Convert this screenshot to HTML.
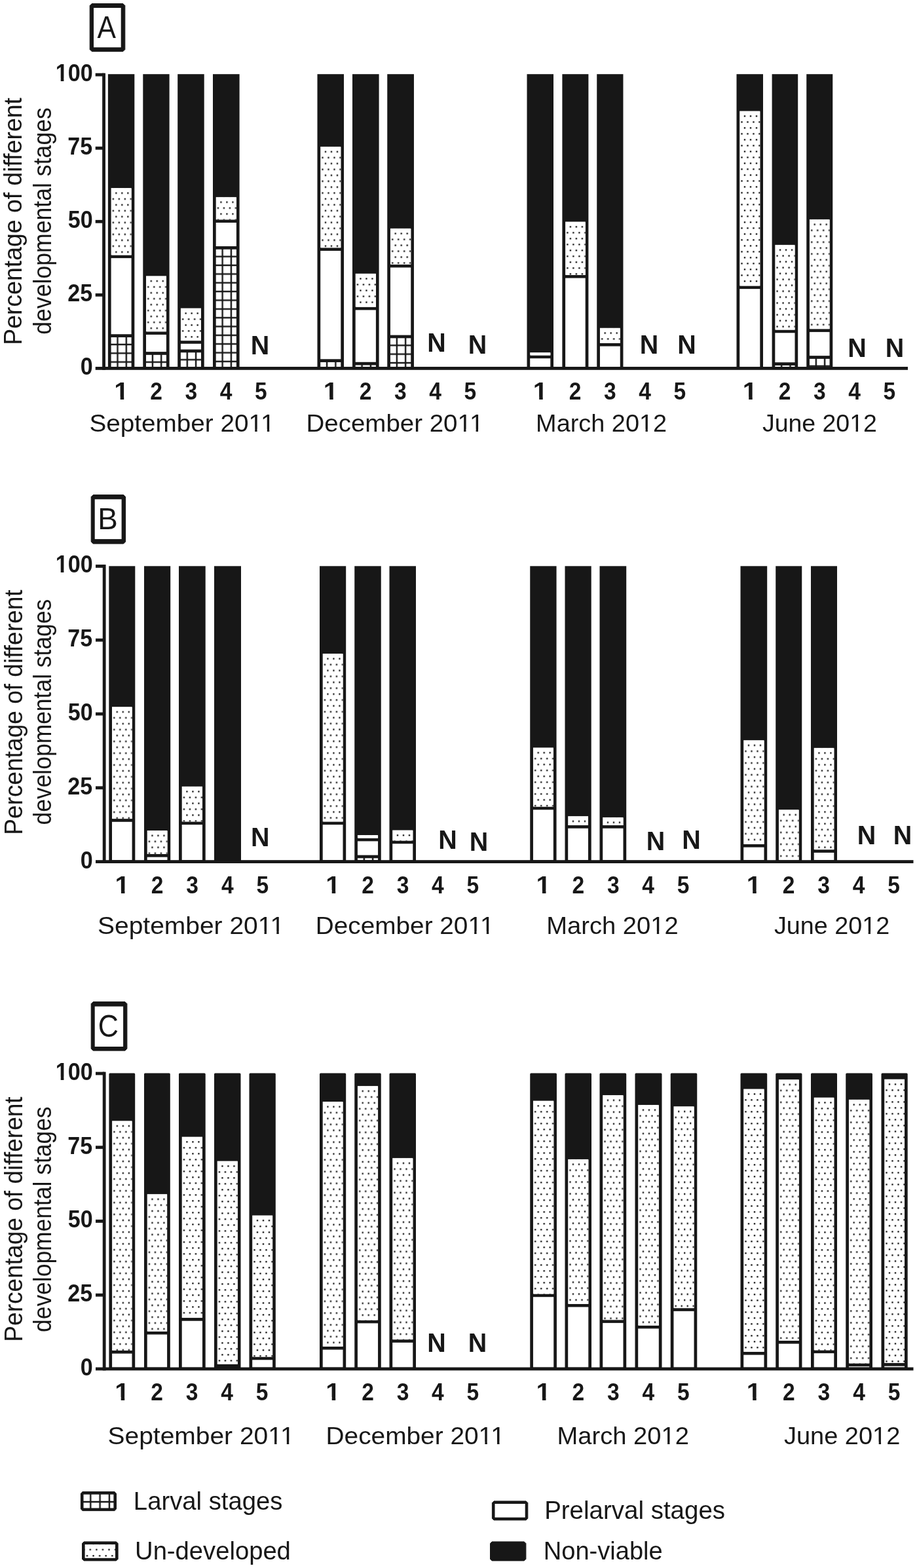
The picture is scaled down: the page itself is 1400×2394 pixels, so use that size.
<!DOCTYPE html>
<html lang="en"><head><meta charset="utf-8"><title>Figure</title>
<style>
html,body{margin:0;padding:0;background:#fff}
svg{display:block}
text{font-family:"Liberation Sans",Arial,Helvetica,sans-serif;fill:#171717}
</style></head><body>
<svg width="1400" height="2394" viewBox="0 0 1400 2394">
<rect width="1400" height="2394" fill="#fff"/>
<defs>
<pattern id="dots" patternUnits="userSpaceOnUse" x="5.6" y="3.4" width="9" height="18"><rect width="9" height="18" fill="#fff"/><rect x="1.0" y="3.3" width="2.3" height="2.3" rx="0.55" fill="#000"/><rect x="5.5" y="12.3" width="2.3" height="2.3" rx="0.55" fill="#000"/></pattern>
<pattern id="grid" patternUnits="userSpaceOnUse" x="1.3" y="0" width="13.3" height="13.35"><rect width="13.3" height="13.35" fill="#fff"/><rect x="0" y="-1.2" width="13.3" height="2.4" fill="#171717"/><rect x="0" y="12.15" width="13.3" height="2.4" fill="#171717"/><rect x="-1.2" y="0" width="2.4" height="13.35" fill="#171717"/><rect x="12.100000000000001" y="0" width="2.4" height="13.35" fill="#171717"/></pattern>
<pattern id="leggrid" patternUnits="userSpaceOnUse" x="1.1" y="0" width="14.3" height="15.9"><rect width="14.3" height="15.9" fill="#fff"/><rect x="0" y="14.65" width="14.3" height="2.5" fill="#171717"/><rect x="0" y="-1.25" width="14.3" height="2.5" fill="#171717"/><rect x="13.1" y="0" width="2.4" height="15.9" fill="#171717"/><rect x="-1.2" y="0" width="2.4" height="15.9" fill="#171717"/></pattern>
<pattern id="legdots" patternUnits="userSpaceOnUse" x="5.8" y="3.3" width="9.57" height="18.8"><rect width="9.57" height="18.8" fill="#fff"/><circle cx="2.4" cy="4.7" r="1.35" fill="#111"/><circle cx="7.17" cy="14.1" r="1.35" fill="#111"/></pattern>
</defs>
<text transform="translate(33.20,523.60) rotate(-90)" x="-3.07" y="0.00" font-size="39.10" textLength="377.61" lengthAdjust="spacingAndGlyphs">Percentage of different</text>
<text transform="translate(78.20,509.30) rotate(-90)" x="-1.50" y="0.00" font-size="39.10" textLength="346.66" lengthAdjust="spacingAndGlyphs">developmental stages</text>
<polygon points="140.20,5.60 187.80,5.60 190.80,8.60 190.80,75.60 187.80,78.60 140.20,78.60 137.20,75.60 137.20,8.60" fill="#171717" stroke="#171717" stroke-width="1" stroke-linejoin="round"/>
<rect x="143.00" y="12.00" width="41.70" height="60.30" fill="#fff"/>
<text x="148.61" y="58.00" font-size="47.82" textLength="28.47" lengthAdjust="spacingAndGlyphs">A</text>
<rect x="164.90" y="113.20" width="40.40" height="449.20" rx="0" fill="#171717"/>
<rect transform="translate(164.90,512.62)" x="4.70" y="2.35" width="31.00" height="45.03" fill="url(#grid)"/>
<rect x="169.60" y="394.11" width="31.00" height="116.15" fill="#fff"/>
<rect x="169.60" y="287.03" width="31.00" height="102.39" fill="#fff"/>
<rect transform="translate(169.60,287.03)" x="1" y="0.8" width="30.00" height="101.59" fill="url(#dots)"/>
<rect x="218.30" y="113.20" width="40.30" height="449.20" rx="0" fill="#171717"/>
<rect transform="translate(218.30,539.47)" x="4.70" y="2.35" width="30.90" height="18.18" fill="url(#grid)"/>
<rect x="223.00" y="510.94" width="30.90" height="26.18" fill="#fff"/>
<rect x="223.00" y="421.31" width="30.90" height="84.93" fill="#fff"/>
<rect transform="translate(223.00,421.31)" x="1" y="0.8" width="29.90" height="84.13" fill="url(#dots)"/>
<rect x="271.20" y="113.20" width="40.50" height="449.20" rx="0" fill="#171717"/>
<rect transform="translate(271.20,535.89)" x="4.70" y="2.35" width="31.10" height="21.76" fill="url(#grid)"/>
<rect x="275.90" y="524.81" width="31.10" height="8.73" fill="#fff"/>
<rect x="275.90" y="470.54" width="31.10" height="49.57" fill="#fff"/>
<rect transform="translate(275.90,470.54)" x="1" y="0.8" width="30.10" height="48.77" fill="url(#dots)"/>
<rect x="325.00" y="113.20" width="40.60" height="449.20" rx="0" fill="#171717"/>
<rect transform="translate(325.00,378.34)" x="4.70" y="2.35" width="31.20" height="179.31" fill="url(#grid)"/>
<rect x="329.70" y="339.95" width="31.20" height="36.03" fill="#fff"/>
<rect x="329.70" y="300.90" width="31.20" height="34.35" fill="#fff"/>
<rect transform="translate(329.70,300.90)" x="1" y="0.8" width="30.20" height="33.55" fill="url(#dots)"/>
<rect x="484.50" y="113.20" width="40.50" height="449.20" rx="0" fill="#171717"/>
<rect transform="translate(484.50,550.66)" x="4.70" y="2.35" width="31.10" height="6.99" fill="url(#grid)"/>
<rect x="489.20" y="382.92" width="31.10" height="165.39" fill="#fff"/>
<rect x="489.20" y="223.91" width="31.10" height="154.31" fill="#fff"/>
<rect transform="translate(489.20,223.91)" x="1" y="0.8" width="30.10" height="153.51" fill="url(#dots)"/>
<rect x="538.00" y="113.20" width="40.60" height="449.20" rx="0" fill="#171717"/>
<rect transform="translate(538.00,555.14)" x="4.70" y="2.35" width="31.20" height="2.51" fill="url(#grid)"/>
<rect x="542.70" y="473.34" width="31.20" height="79.45" fill="#fff"/>
<rect x="542.70" y="417.73" width="31.20" height="50.91" fill="#fff"/>
<rect transform="translate(542.70,417.73)" x="1" y="0.8" width="30.20" height="50.11" fill="url(#dots)"/>
<rect x="591.25" y="113.20" width="40.70" height="449.20" rx="0" fill="#171717"/>
<rect transform="translate(591.25,513.96)" x="4.70" y="2.35" width="31.30" height="43.69" fill="url(#grid)"/>
<rect x="595.95" y="408.44" width="31.30" height="103.17" fill="#fff"/>
<rect x="595.95" y="348.79" width="31.30" height="54.94" fill="#fff"/>
<rect transform="translate(595.95,348.79)" x="1" y="0.8" width="30.30" height="54.14" fill="url(#dots)"/>
<rect x="804.50" y="113.20" width="40.50" height="449.20" rx="0" fill="#171717"/>
<rect x="809.20" y="547.19" width="31.10" height="12.81" fill="#fff"/>
<rect x="809.20" y="538.13" width="31.10" height="4.36" fill="#fff"/>
<rect transform="translate(809.20,538.13)" x="1" y="0.8" width="30.10" height="3.56" fill="url(#dots)"/>
<rect x="858.40" y="113.20" width="40.00" height="449.20" rx="0" fill="#171717"/>
<rect x="863.10" y="424.55" width="30.60" height="135.45" fill="#fff"/>
<rect x="863.10" y="338.50" width="30.60" height="81.35" fill="#fff"/>
<rect transform="translate(863.10,338.50)" x="1" y="0.8" width="29.60" height="80.55" fill="url(#dots)"/>
<rect x="911.25" y="113.20" width="40.20" height="449.20" rx="0" fill="#171717"/>
<rect x="915.95" y="528.62" width="30.80" height="31.38" fill="#fff"/>
<rect x="915.95" y="500.75" width="30.80" height="23.16" fill="#fff"/>
<rect transform="translate(915.95,500.75)" x="1" y="0.8" width="29.80" height="22.36" fill="url(#dots)"/>
<rect x="1124.50" y="113.20" width="40.50" height="449.20" rx="0" fill="#171717"/>
<rect x="1129.20" y="441.11" width="31.10" height="118.89" fill="#fff"/>
<rect x="1129.20" y="169.53" width="31.10" height="266.88" fill="#fff"/>
<rect transform="translate(1129.20,169.53)" x="1" y="0.8" width="30.10" height="266.08" fill="url(#dots)"/>
<rect x="1178.60" y="113.20" width="39.60" height="449.20" rx="0" fill="#171717"/>
<rect transform="translate(1178.60,555.59)" x="4.70" y="2.35" width="30.20" height="2.06" fill="url(#grid)"/>
<rect x="1183.30" y="508.25" width="30.20" height="44.98" fill="#fff"/>
<rect x="1183.30" y="373.86" width="30.20" height="129.69" fill="#fff"/>
<rect transform="translate(1183.30,373.86)" x="1" y="0.8" width="29.20" height="128.89" fill="url(#dots)"/>
<rect x="1231.25" y="113.20" width="40.00" height="449.20" rx="0" fill="#171717"/>
<rect transform="translate(1231.25,545.51)" x="4.70" y="2.35" width="30.60" height="12.13" fill="url(#grid)"/>
<rect x="1235.95" y="506.91" width="30.60" height="36.26" fill="#fff"/>
<rect x="1235.95" y="334.92" width="30.60" height="167.29" fill="#fff"/>
<rect transform="translate(1235.95,334.92)" x="1" y="0.8" width="29.60" height="166.49" fill="url(#dots)"/>
<rect x="145.70" y="560.00" width="1240.30" height="4.8" fill="#171717"/>
<rect x="156.15" y="111.70" width="4.8" height="453.10" fill="#171717"/>
<rect x="145.70" y="111.70" width="12.85" height="4.8" fill="#171717"/>
<text x="84.77" y="124.00" font-size="36.48" font-weight="700" textLength="56.91" lengthAdjust="spacingAndGlyphs">100</text>
<rect x="85.62" y="119.58" width="7.11" height="5.12" fill="#fff"/>
<rect x="97.41" y="119.58" width="6.68" height="5.12" fill="#fff"/>
<rect x="145.70" y="223.78" width="12.85" height="4.8" fill="#171717"/>
<text x="103.29" y="236.08" font-size="36.48" font-weight="700" textLength="37.94" lengthAdjust="spacingAndGlyphs">75</text>
<rect x="145.70" y="335.85" width="12.85" height="4.8" fill="#171717"/>
<text x="103.73" y="348.15" font-size="36.48" font-weight="700" textLength="37.94" lengthAdjust="spacingAndGlyphs">50</text>
<rect x="145.70" y="447.93" width="12.85" height="4.8" fill="#171717"/>
<text x="103.29" y="460.22" font-size="36.48" font-weight="700" textLength="37.94" lengthAdjust="spacingAndGlyphs">25</text>
<text x="122.70" y="572.30" font-size="36.48" font-weight="700" textLength="18.97" lengthAdjust="spacingAndGlyphs">0</text>
<text x="174.34" y="610.20" font-size="36.48" font-weight="700" textLength="22.32" lengthAdjust="spacingAndGlyphs">1</text>
<rect x="175.57" y="605.78" width="8.14" height="5.12" fill="#fff"/>
<rect x="189.21" y="605.78" width="7.63" height="5.12" fill="#fff"/>
<text x="229.17" y="610.20" font-size="36.48" font-weight="700" textLength="18.67" lengthAdjust="spacingAndGlyphs">2</text>
<text x="282.47" y="610.20" font-size="36.48" font-weight="700" textLength="18.67" lengthAdjust="spacingAndGlyphs">3</text>
<text x="335.77" y="610.20" font-size="36.48" font-weight="700" textLength="18.67" lengthAdjust="spacingAndGlyphs">4</text>
<text x="389.07" y="610.20" font-size="36.48" font-weight="700" textLength="18.67" lengthAdjust="spacingAndGlyphs">5</text>
<text x="136.51" y="658.75" font-size="37.50" textLength="283.11" lengthAdjust="spacingAndGlyphs">September 2011</text>
<rect x="381.11" y="655.25" width="8.08" height="4.20" fill="#fff"/>
<rect x="392.61" y="655.25" width="7.78" height="4.20" fill="#fff"/>
<rect x="399.75" y="655.25" width="8.08" height="4.20" fill="#fff"/>
<rect x="411.25" y="655.25" width="7.78" height="4.20" fill="#fff"/>
<text x="493.84" y="610.20" font-size="36.48" font-weight="700" textLength="22.32" lengthAdjust="spacingAndGlyphs">1</text>
<rect x="495.07" y="605.78" width="8.14" height="5.12" fill="#fff"/>
<rect x="508.71" y="605.78" width="7.63" height="5.12" fill="#fff"/>
<text x="548.67" y="610.20" font-size="36.48" font-weight="700" textLength="18.67" lengthAdjust="spacingAndGlyphs">2</text>
<text x="601.97" y="610.20" font-size="36.48" font-weight="700" textLength="18.67" lengthAdjust="spacingAndGlyphs">3</text>
<text x="655.27" y="610.20" font-size="36.48" font-weight="700" textLength="18.67" lengthAdjust="spacingAndGlyphs">4</text>
<text x="708.57" y="610.20" font-size="36.48" font-weight="700" textLength="18.67" lengthAdjust="spacingAndGlyphs">5</text>
<text x="467.60" y="658.75" font-size="37.50" textLength="270.72" lengthAdjust="spacingAndGlyphs">December 2011</text>
<rect x="700.03" y="655.25" width="8.04" height="4.20" fill="#fff"/>
<rect x="711.47" y="655.25" width="7.74" height="4.20" fill="#fff"/>
<rect x="718.56" y="655.25" width="8.04" height="4.20" fill="#fff"/>
<rect x="730.00" y="655.25" width="7.74" height="4.20" fill="#fff"/>
<text x="813.84" y="610.20" font-size="36.48" font-weight="700" textLength="22.32" lengthAdjust="spacingAndGlyphs">1</text>
<rect x="815.07" y="605.78" width="8.14" height="5.12" fill="#fff"/>
<rect x="828.71" y="605.78" width="7.63" height="5.12" fill="#fff"/>
<text x="868.67" y="610.20" font-size="36.48" font-weight="700" textLength="18.67" lengthAdjust="spacingAndGlyphs">2</text>
<text x="921.97" y="610.20" font-size="36.48" font-weight="700" textLength="18.67" lengthAdjust="spacingAndGlyphs">3</text>
<text x="975.27" y="610.20" font-size="36.48" font-weight="700" textLength="18.67" lengthAdjust="spacingAndGlyphs">4</text>
<text x="1028.57" y="610.20" font-size="36.48" font-weight="700" textLength="18.67" lengthAdjust="spacingAndGlyphs">5</text>
<text x="818.14" y="658.75" font-size="37.50" textLength="199.99" lengthAdjust="spacingAndGlyphs">March 2012</text>
<rect x="977.60" y="655.25" width="7.94" height="4.20" fill="#fff"/>
<rect x="988.88" y="655.25" width="7.64" height="4.20" fill="#fff"/>
<text x="1133.84" y="610.20" font-size="36.48" font-weight="700" textLength="22.32" lengthAdjust="spacingAndGlyphs">1</text>
<rect x="1135.07" y="605.78" width="8.14" height="5.12" fill="#fff"/>
<rect x="1148.71" y="605.78" width="7.63" height="5.12" fill="#fff"/>
<text x="1188.67" y="610.20" font-size="36.48" font-weight="700" textLength="18.67" lengthAdjust="spacingAndGlyphs">2</text>
<text x="1241.97" y="610.20" font-size="36.48" font-weight="700" textLength="18.67" lengthAdjust="spacingAndGlyphs">3</text>
<text x="1295.27" y="610.20" font-size="36.48" font-weight="700" textLength="18.67" lengthAdjust="spacingAndGlyphs">4</text>
<text x="1348.57" y="610.20" font-size="36.48" font-weight="700" textLength="18.67" lengthAdjust="spacingAndGlyphs">5</text>
<text x="1163.94" y="658.75" font-size="37.50" textLength="174.93" lengthAdjust="spacingAndGlyphs">June 2012</text>
<rect x="1298.76" y="655.25" width="7.86" height="4.20" fill="#fff"/>
<rect x="1309.94" y="655.25" width="7.57" height="4.20" fill="#fff"/>
<text x="382.77" y="541.00" font-size="40.70" font-weight="700" textLength="28.51" lengthAdjust="spacingAndGlyphs">N</text>
<text x="652.27" y="537.00" font-size="40.70" font-weight="700" textLength="28.51" lengthAdjust="spacingAndGlyphs">N</text>
<text x="714.77" y="539.50" font-size="40.70" font-weight="700" textLength="28.51" lengthAdjust="spacingAndGlyphs">N</text>
<text x="976.77" y="540.00" font-size="40.70" font-weight="700" textLength="28.51" lengthAdjust="spacingAndGlyphs">N</text>
<text x="1034.27" y="540.00" font-size="40.70" font-weight="700" textLength="28.51" lengthAdjust="spacingAndGlyphs">N</text>
<text x="1294.27" y="545.00" font-size="40.70" font-weight="700" textLength="28.51" lengthAdjust="spacingAndGlyphs">N</text>
<text x="1351.77" y="545.00" font-size="40.70" font-weight="700" textLength="28.51" lengthAdjust="spacingAndGlyphs">N</text>
<text transform="translate(34.20,1271.60) rotate(-90)" x="-3.04" y="0.00" font-size="39.10" textLength="374.18" lengthAdjust="spacingAndGlyphs">Percentage of different</text>
<text transform="translate(78.40,1258.00) rotate(-90)" x="-1.49" y="0.00" font-size="39.10" textLength="344.75" lengthAdjust="spacingAndGlyphs">developmental stages</text>
<polygon points="142.20,755.60 188.60,755.60 191.60,758.60 191.60,827.10 188.60,830.10 142.20,830.10 139.20,827.10 139.20,758.60" fill="#171717" stroke="#171717" stroke-width="1" stroke-linejoin="round"/>
<rect x="144.70" y="762.30" width="40.90" height="60.80" fill="#fff"/>
<text x="149.15" y="807.70" font-size="46.08" textLength="30.53" lengthAdjust="spacingAndGlyphs">B</text>
<rect x="166.30" y="864.30" width="40.00" height="451.30" rx="0" fill="#171717"/>
<rect x="171.00" y="1254.78" width="30.60" height="58.42" fill="#fff"/>
<rect x="171.00" y="1079.17" width="30.60" height="170.91" fill="#fff"/>
<rect transform="translate(171.00,1079.17)" x="1" y="0.8" width="29.60" height="170.11" fill="url(#dots)"/>
<rect x="220.00" y="864.30" width="40.20" height="451.30" rx="0" fill="#171717"/>
<rect x="224.70" y="1308.61" width="30.80" height="4.59" fill="#fff"/>
<rect x="224.70" y="1268.00" width="30.80" height="35.91" fill="#fff"/>
<rect transform="translate(224.70,1268.00)" x="1" y="0.8" width="29.80" height="35.11" fill="url(#dots)"/>
<rect x="273.00" y="864.30" width="40.70" height="451.30" rx="0" fill="#171717"/>
<rect x="277.70" y="1259.11" width="31.30" height="54.09" fill="#fff"/>
<rect x="277.70" y="1200.77" width="31.30" height="53.64" fill="#fff"/>
<rect transform="translate(277.70,1200.77)" x="1" y="0.8" width="30.30" height="52.84" fill="url(#dots)"/>
<rect x="327.00" y="864.30" width="41.00" height="451.30" rx="0" fill="#171717"/>
<rect x="488.00" y="864.30" width="40.20" height="451.30" rx="0" fill="#171717"/>
<rect x="492.70" y="1259.11" width="30.80" height="54.09" fill="#fff"/>
<rect x="492.70" y="997.96" width="30.80" height="256.46" fill="#fff"/>
<rect transform="translate(492.70,997.96)" x="1" y="0.8" width="29.80" height="255.66" fill="url(#dots)"/>
<rect x="541.25" y="864.30" width="40.50" height="451.30" rx="0" fill="#171717"/>
<rect transform="translate(541.25,1307.93)" x="4.70" y="2.35" width="31.10" height="2.92" fill="url(#grid)"/>
<rect x="545.95" y="1284.34" width="31.10" height="21.24" fill="#fff"/>
<rect x="545.95" y="1274.99" width="31.10" height="4.64" fill="#fff"/>
<rect transform="translate(545.95,1274.99)" x="1" y="0.8" width="30.10" height="3.84" fill="url(#dots)"/>
<rect x="594.50" y="864.30" width="40.50" height="451.30" rx="0" fill="#171717"/>
<rect x="599.20" y="1288.17" width="31.10" height="25.03" fill="#fff"/>
<rect x="599.20" y="1267.50" width="31.10" height="15.97" fill="#fff"/>
<rect transform="translate(599.20,1267.50)" x="1" y="0.8" width="30.10" height="15.17" fill="url(#dots)"/>
<rect x="809.25" y="864.30" width="40.30" height="451.30" rx="0" fill="#171717"/>
<rect x="813.95" y="1236.28" width="30.90" height="76.92" fill="#fff"/>
<rect x="813.95" y="1141.44" width="30.90" height="90.15" fill="#fff"/>
<rect transform="translate(813.95,1141.44)" x="1" y="0.8" width="29.90" height="89.35" fill="url(#dots)"/>
<rect x="862.50" y="864.30" width="40.20" height="451.30" rx="0" fill="#171717"/>
<rect x="867.20" y="1264.71" width="30.80" height="48.49" fill="#fff"/>
<rect x="867.20" y="1246.12" width="30.80" height="13.89" fill="#fff"/>
<rect transform="translate(867.20,1246.12)" x="1" y="0.8" width="29.80" height="13.09" fill="url(#dots)"/>
<rect x="915.50" y="864.30" width="40.70" height="451.30" rx="0" fill="#171717"/>
<rect x="920.20" y="1264.71" width="31.30" height="48.49" fill="#fff"/>
<rect x="920.20" y="1247.92" width="31.30" height="12.09" fill="#fff"/>
<rect transform="translate(920.20,1247.92)" x="1" y="0.8" width="30.30" height="11.29" fill="url(#dots)"/>
<rect x="1130.50" y="864.30" width="40.70" height="451.30" rx="0" fill="#171717"/>
<rect x="1135.20" y="1293.59" width="31.30" height="19.61" fill="#fff"/>
<rect x="1135.20" y="1130.16" width="31.30" height="158.73" fill="#fff"/>
<rect transform="translate(1135.20,1130.16)" x="1" y="0.8" width="30.30" height="157.93" fill="url(#dots)"/>
<rect x="1184.25" y="864.30" width="40.00" height="451.30" rx="0" fill="#171717"/>
<rect x="1188.95" y="1236.19" width="30.60" height="77.01" fill="#fff"/>
<rect transform="translate(1188.95,1236.19)" x="1" y="0.8" width="29.60" height="76.21" fill="url(#dots)"/>
<rect x="1238.00" y="864.30" width="40.00" height="451.30" rx="0" fill="#171717"/>
<rect x="1242.70" y="1301.84" width="30.60" height="11.36" fill="#fff"/>
<rect x="1242.70" y="1141.89" width="30.60" height="155.25" fill="#fff"/>
<rect transform="translate(1242.70,1141.89)" x="1" y="0.8" width="29.60" height="154.45" fill="url(#dots)"/>
<rect x="146.00" y="1313.20" width="1248.50" height="4.8" fill="#171717"/>
<rect x="156.75" y="862.05" width="4.8" height="455.95" fill="#171717"/>
<rect x="146.00" y="862.05" width="13.15" height="4.8" fill="#171717"/>
<text x="84.77" y="874.35" font-size="36.48" font-weight="700" textLength="56.91" lengthAdjust="spacingAndGlyphs">100</text>
<rect x="85.62" y="869.93" width="7.11" height="5.12" fill="#fff"/>
<rect x="97.41" y="869.93" width="6.68" height="5.12" fill="#fff"/>
<rect x="146.00" y="974.84" width="13.15" height="4.8" fill="#171717"/>
<text x="103.29" y="987.14" font-size="36.48" font-weight="700" textLength="37.94" lengthAdjust="spacingAndGlyphs">75</text>
<rect x="146.00" y="1087.62" width="13.15" height="4.8" fill="#171717"/>
<text x="103.73" y="1099.92" font-size="36.48" font-weight="700" textLength="37.94" lengthAdjust="spacingAndGlyphs">50</text>
<rect x="146.00" y="1200.41" width="13.15" height="4.8" fill="#171717"/>
<text x="103.29" y="1212.71" font-size="36.48" font-weight="700" textLength="37.94" lengthAdjust="spacingAndGlyphs">25</text>
<text x="122.70" y="1325.50" font-size="36.48" font-weight="700" textLength="18.97" lengthAdjust="spacingAndGlyphs">0</text>
<text x="175.59" y="1363.60" font-size="36.48" font-weight="700" textLength="22.32" lengthAdjust="spacingAndGlyphs">1</text>
<rect x="176.82" y="1359.18" width="8.14" height="5.12" fill="#fff"/>
<rect x="190.46" y="1359.18" width="7.63" height="5.12" fill="#fff"/>
<text x="230.72" y="1363.60" font-size="36.48" font-weight="700" textLength="18.67" lengthAdjust="spacingAndGlyphs">2</text>
<text x="284.32" y="1363.60" font-size="36.48" font-weight="700" textLength="18.67" lengthAdjust="spacingAndGlyphs">3</text>
<text x="337.92" y="1363.60" font-size="36.48" font-weight="700" textLength="18.67" lengthAdjust="spacingAndGlyphs">4</text>
<text x="391.52" y="1363.60" font-size="36.48" font-weight="700" textLength="18.67" lengthAdjust="spacingAndGlyphs">5</text>
<text x="149.00" y="1425.60" font-size="37.50" textLength="285.18" lengthAdjust="spacingAndGlyphs">September 2011</text>
<rect x="395.40" y="1422.10" width="8.13" height="4.20" fill="#fff"/>
<rect x="406.97" y="1422.10" width="7.83" height="4.20" fill="#fff"/>
<rect x="414.18" y="1422.10" width="8.13" height="4.20" fill="#fff"/>
<rect x="425.75" y="1422.10" width="7.83" height="4.20" fill="#fff"/>
<text x="497.34" y="1363.60" font-size="36.48" font-weight="700" textLength="22.32" lengthAdjust="spacingAndGlyphs">1</text>
<rect x="498.57" y="1359.18" width="8.14" height="5.12" fill="#fff"/>
<rect x="512.21" y="1359.18" width="7.63" height="5.12" fill="#fff"/>
<text x="552.27" y="1363.60" font-size="36.48" font-weight="700" textLength="18.67" lengthAdjust="spacingAndGlyphs">2</text>
<text x="605.67" y="1363.60" font-size="36.48" font-weight="700" textLength="18.67" lengthAdjust="spacingAndGlyphs">3</text>
<text x="659.07" y="1363.60" font-size="36.48" font-weight="700" textLength="18.67" lengthAdjust="spacingAndGlyphs">4</text>
<text x="712.47" y="1363.60" font-size="36.48" font-weight="700" textLength="18.67" lengthAdjust="spacingAndGlyphs">5</text>
<text x="481.82" y="1425.60" font-size="37.50" textLength="272.81" lengthAdjust="spacingAndGlyphs">December 2011</text>
<rect x="716.06" y="1422.10" width="8.09" height="4.20" fill="#fff"/>
<rect x="727.58" y="1422.10" width="7.79" height="4.20" fill="#fff"/>
<rect x="734.73" y="1422.10" width="8.09" height="4.20" fill="#fff"/>
<rect x="746.25" y="1422.10" width="7.79" height="4.20" fill="#fff"/>
<text x="818.59" y="1363.60" font-size="36.48" font-weight="700" textLength="22.32" lengthAdjust="spacingAndGlyphs">1</text>
<rect x="819.82" y="1359.18" width="8.14" height="5.12" fill="#fff"/>
<rect x="833.46" y="1359.18" width="7.63" height="5.12" fill="#fff"/>
<text x="873.52" y="1363.60" font-size="36.48" font-weight="700" textLength="18.67" lengthAdjust="spacingAndGlyphs">2</text>
<text x="926.92" y="1363.60" font-size="36.48" font-weight="700" textLength="18.67" lengthAdjust="spacingAndGlyphs">3</text>
<text x="980.32" y="1363.60" font-size="36.48" font-weight="700" textLength="18.67" lengthAdjust="spacingAndGlyphs">4</text>
<text x="1033.72" y="1363.60" font-size="36.48" font-weight="700" textLength="18.67" lengthAdjust="spacingAndGlyphs">5</text>
<text x="834.37" y="1425.60" font-size="37.50" textLength="201.27" lengthAdjust="spacingAndGlyphs">March 2012</text>
<rect x="994.86" y="1422.10" width="7.98" height="4.20" fill="#fff"/>
<rect x="1006.21" y="1422.10" width="7.68" height="4.20" fill="#fff"/>
<text x="1139.84" y="1363.60" font-size="36.48" font-weight="700" textLength="22.32" lengthAdjust="spacingAndGlyphs">1</text>
<rect x="1141.07" y="1359.18" width="8.14" height="5.12" fill="#fff"/>
<rect x="1154.71" y="1359.18" width="7.63" height="5.12" fill="#fff"/>
<text x="1194.87" y="1363.60" font-size="36.48" font-weight="700" textLength="18.67" lengthAdjust="spacingAndGlyphs">2</text>
<text x="1248.37" y="1363.60" font-size="36.48" font-weight="700" textLength="18.67" lengthAdjust="spacingAndGlyphs">3</text>
<text x="1301.87" y="1363.60" font-size="36.48" font-weight="700" textLength="18.67" lengthAdjust="spacingAndGlyphs">4</text>
<text x="1355.37" y="1363.60" font-size="36.48" font-weight="700" textLength="18.67" lengthAdjust="spacingAndGlyphs">5</text>
<text x="1181.93" y="1425.60" font-size="37.50" textLength="176.20" lengthAdjust="spacingAndGlyphs">June 2012</text>
<rect x="1317.75" y="1422.10" width="7.91" height="4.20" fill="#fff"/>
<rect x="1328.99" y="1422.10" width="7.62" height="4.20" fill="#fff"/>
<text x="383.02" y="1291.75" font-size="40.70" font-weight="700" textLength="28.51" lengthAdjust="spacingAndGlyphs">N</text>
<text x="669.27" y="1296.25" font-size="40.70" font-weight="700" textLength="28.51" lengthAdjust="spacingAndGlyphs">N</text>
<text x="716.77" y="1298.75" font-size="40.70" font-weight="700" textLength="28.51" lengthAdjust="spacingAndGlyphs">N</text>
<text x="986.77" y="1298.00" font-size="40.70" font-weight="700" textLength="28.51" lengthAdjust="spacingAndGlyphs">N</text>
<text x="1041.17" y="1296.25" font-size="40.70" font-weight="700" textLength="28.51" lengthAdjust="spacingAndGlyphs">N</text>
<text x="1308.77" y="1289.25" font-size="40.70" font-weight="700" textLength="28.51" lengthAdjust="spacingAndGlyphs">N</text>
<text x="1363.77" y="1289.25" font-size="40.70" font-weight="700" textLength="28.51" lengthAdjust="spacingAndGlyphs">N</text>
<text transform="translate(34.20,2045.60) rotate(-90)" x="-3.04" y="0.00" font-size="39.10" textLength="374.29" lengthAdjust="spacingAndGlyphs">Percentage of different</text>
<text transform="translate(78.40,2032.50) rotate(-90)" x="-1.49" y="0.00" font-size="39.10" textLength="344.55" lengthAdjust="spacingAndGlyphs">developmental stages</text>
<polygon points="142.20,1529.60 190.90,1529.60 193.90,1532.60 193.90,1601.10 190.90,1604.10 142.20,1604.10 139.20,1601.10 139.20,1532.60" fill="#171717" stroke="#171717" stroke-width="1" stroke-linejoin="round"/>
<rect x="144.70" y="1536.60" width="43.40" height="61.40" fill="#fff"/>
<text x="149.74" y="1582.60" font-size="47.97" textLength="31.16" lengthAdjust="spacingAndGlyphs">C</text>
<rect x="166.40" y="1638.50" width="39.80" height="451.50" rx="1.5" fill="#171717"/>
<rect x="171.10" y="2066.61" width="30.40" height="20.99" fill="#fff"/>
<rect x="171.10" y="1711.31" width="30.40" height="350.60" fill="#fff"/>
<rect transform="translate(171.10,1711.31)" x="1" y="0.8" width="29.40" height="349.80" fill="url(#dots)"/>
<rect x="220.00" y="1638.50" width="39.80" height="451.50" rx="1.5" fill="#171717"/>
<rect x="224.70" y="2037.48" width="30.40" height="50.12" fill="#fff"/>
<rect x="224.70" y="1823.16" width="30.40" height="209.62" fill="#fff"/>
<rect transform="translate(224.70,1823.16)" x="1" y="0.8" width="29.40" height="208.82" fill="url(#dots)"/>
<rect x="273.00" y="1638.50" width="40.70" height="451.50" rx="1.5" fill="#171717"/>
<rect x="277.70" y="2016.73" width="31.30" height="70.87" fill="#fff"/>
<rect x="277.70" y="1735.66" width="31.30" height="276.37" fill="#fff"/>
<rect transform="translate(277.70,1735.66)" x="1" y="0.8" width="30.30" height="275.57" fill="url(#dots)"/>
<rect x="327.00" y="1638.50" width="40.50" height="451.50" rx="1.5" fill="#171717"/>
<rect x="331.70" y="1772.65" width="31.10" height="310.19" fill="#fff"/>
<rect transform="translate(331.70,1772.65)" x="1" y="0.8" width="30.10" height="309.39" fill="url(#dots)"/>
<rect x="380.50" y="1638.50" width="40.30" height="451.50" rx="1.5" fill="#171717"/>
<rect x="385.20" y="2076.26" width="30.90" height="11.34" fill="#fff"/>
<rect x="385.20" y="1855.63" width="30.90" height="215.93" fill="#fff"/>
<rect transform="translate(385.20,1855.63)" x="1" y="0.8" width="29.90" height="215.13" fill="url(#dots)"/>
<rect x="488.00" y="1638.50" width="40.20" height="451.50" rx="1.5" fill="#171717"/>
<rect x="492.70" y="2060.62" width="30.80" height="26.98" fill="#fff"/>
<rect x="492.70" y="1682.00" width="30.80" height="373.92" fill="#fff"/>
<rect transform="translate(492.70,1682.00)" x="1" y="0.8" width="29.80" height="373.12" fill="url(#dots)"/>
<rect x="541.25" y="1638.50" width="40.50" height="451.50" rx="1.5" fill="#171717"/>
<rect x="545.95" y="2020.34" width="31.10" height="67.26" fill="#fff"/>
<rect x="545.95" y="1658.09" width="31.10" height="357.55" fill="#fff"/>
<rect transform="translate(545.95,1658.09)" x="1" y="0.8" width="30.10" height="356.75" fill="url(#dots)"/>
<rect x="594.50" y="1638.50" width="40.50" height="451.50" rx="1.5" fill="#171717"/>
<rect x="599.20" y="2049.84" width="31.10" height="37.76" fill="#fff"/>
<rect x="599.20" y="1768.14" width="31.10" height="277.00" fill="#fff"/>
<rect transform="translate(599.20,1768.14)" x="1" y="0.8" width="30.10" height="276.20" fill="url(#dots)"/>
<rect x="809.25" y="1638.50" width="40.70" height="451.50" rx="1.5" fill="#171717"/>
<rect x="813.95" y="1980.20" width="31.30" height="107.40" fill="#fff"/>
<rect x="813.95" y="1680.64" width="31.30" height="294.86" fill="#fff"/>
<rect transform="translate(813.95,1680.64)" x="1" y="0.8" width="30.30" height="294.06" fill="url(#dots)"/>
<rect x="862.50" y="1638.50" width="40.50" height="451.50" rx="1.5" fill="#171717"/>
<rect x="867.20" y="1995.54" width="31.10" height="92.06" fill="#fff"/>
<rect x="867.20" y="1769.94" width="31.10" height="220.90" fill="#fff"/>
<rect transform="translate(867.20,1769.94)" x="1" y="0.8" width="30.10" height="220.10" fill="url(#dots)"/>
<rect x="915.50" y="1638.50" width="40.70" height="451.50" rx="1.5" fill="#171717"/>
<rect x="920.20" y="2019.89" width="31.30" height="67.71" fill="#fff"/>
<rect x="920.20" y="1672.07" width="31.30" height="343.12" fill="#fff"/>
<rect transform="translate(920.20,1672.07)" x="1" y="0.8" width="30.30" height="342.32" fill="url(#dots)"/>
<rect x="969.50" y="1638.50" width="41.00" height="451.50" rx="1.5" fill="#171717"/>
<rect x="974.20" y="2028.46" width="31.60" height="59.14" fill="#fff"/>
<rect x="974.20" y="1686.96" width="31.60" height="336.80" fill="#fff"/>
<rect transform="translate(974.20,1686.96)" x="1" y="0.8" width="30.60" height="336.00" fill="url(#dots)"/>
<rect x="1023.75" y="1638.50" width="40.50" height="451.50" rx="1.5" fill="#171717"/>
<rect x="1028.45" y="2001.85" width="31.10" height="85.75" fill="#fff"/>
<rect x="1028.45" y="1689.21" width="31.10" height="307.94" fill="#fff"/>
<rect transform="translate(1028.45,1689.21)" x="1" y="0.8" width="30.10" height="307.14" fill="url(#dots)"/>
<rect x="1130.50" y="1638.50" width="40.70" height="451.50" rx="1.5" fill="#171717"/>
<rect x="1135.20" y="2068.60" width="31.30" height="19.00" fill="#fff"/>
<rect x="1135.20" y="1662.60" width="31.30" height="401.29" fill="#fff"/>
<rect transform="translate(1135.20,1662.60)" x="1" y="0.8" width="30.30" height="400.49" fill="url(#dots)"/>
<rect x="1184.25" y="1638.50" width="40.20" height="451.50" rx="1.5" fill="#171717"/>
<rect x="1188.95" y="2051.60" width="30.80" height="36.00" fill="#fff"/>
<rect x="1188.95" y="1648.17" width="30.80" height="398.72" fill="#fff"/>
<rect transform="translate(1188.95,1648.17)" x="1" y="0.8" width="29.80" height="397.92" fill="url(#dots)"/>
<rect x="1238.00" y="1638.50" width="40.00" height="451.50" rx="1.5" fill="#171717"/>
<rect x="1242.70" y="2066.12" width="30.60" height="21.48" fill="#fff"/>
<rect x="1242.70" y="1675.68" width="30.60" height="385.74" fill="#fff"/>
<rect transform="translate(1242.70,1675.68)" x="1" y="0.8" width="29.60" height="384.94" fill="url(#dots)"/>
<rect x="1291.25" y="1638.50" width="40.70" height="451.50" rx="1.5" fill="#171717"/>
<rect x="1295.95" y="2086.19" width="31.30" height="1.41" fill="#fff"/>
<rect x="1295.95" y="1678.84" width="31.30" height="402.65" fill="#fff"/>
<rect transform="translate(1295.95,1678.84)" x="1" y="0.8" width="30.30" height="401.85" fill="url(#dots)"/>
<rect x="1345.50" y="1638.50" width="40.20" height="451.50" rx="1.5" fill="#171717"/>
<rect x="1350.20" y="2085.74" width="30.80" height="1.86" fill="#fff"/>
<rect x="1350.20" y="1647.72" width="30.80" height="433.32" fill="#fff"/>
<rect transform="translate(1350.20,1647.72)" x="1" y="0.8" width="29.80" height="432.52" fill="url(#dots)"/>
<rect x="146.00" y="2087.60" width="1248.50" height="4.8" fill="#171717"/>
<rect x="156.75" y="1636.60" width="4.8" height="455.80" fill="#171717"/>
<rect x="146.00" y="1636.60" width="13.15" height="4.8" fill="#171717"/>
<text x="84.77" y="1648.90" font-size="36.48" font-weight="700" textLength="56.91" lengthAdjust="spacingAndGlyphs">100</text>
<rect x="85.62" y="1644.48" width="7.11" height="5.12" fill="#fff"/>
<rect x="97.41" y="1644.48" width="6.68" height="5.12" fill="#fff"/>
<rect x="146.00" y="1749.35" width="13.15" height="4.8" fill="#171717"/>
<text x="103.29" y="1761.65" font-size="36.48" font-weight="700" textLength="37.94" lengthAdjust="spacingAndGlyphs">75</text>
<rect x="146.00" y="1862.10" width="13.15" height="4.8" fill="#171717"/>
<text x="103.73" y="1874.40" font-size="36.48" font-weight="700" textLength="37.94" lengthAdjust="spacingAndGlyphs">50</text>
<rect x="146.00" y="1974.85" width="13.15" height="4.8" fill="#171717"/>
<text x="103.29" y="1987.15" font-size="36.48" font-weight="700" textLength="37.94" lengthAdjust="spacingAndGlyphs">25</text>
<text x="122.70" y="2099.90" font-size="36.48" font-weight="700" textLength="18.97" lengthAdjust="spacingAndGlyphs">0</text>
<text x="175.34" y="2137.60" font-size="36.48" font-weight="700" textLength="22.32" lengthAdjust="spacingAndGlyphs">1</text>
<rect x="176.57" y="2133.18" width="8.14" height="5.12" fill="#fff"/>
<rect x="190.21" y="2133.18" width="7.63" height="5.12" fill="#fff"/>
<text x="230.37" y="2137.60" font-size="36.48" font-weight="700" textLength="18.67" lengthAdjust="spacingAndGlyphs">2</text>
<text x="283.87" y="2137.60" font-size="36.48" font-weight="700" textLength="18.67" lengthAdjust="spacingAndGlyphs">3</text>
<text x="337.37" y="2137.60" font-size="36.48" font-weight="700" textLength="18.67" lengthAdjust="spacingAndGlyphs">4</text>
<text x="390.87" y="2137.60" font-size="36.48" font-weight="700" textLength="18.67" lengthAdjust="spacingAndGlyphs">5</text>
<text x="164.50" y="2205.00" font-size="37.50" textLength="285.18" lengthAdjust="spacingAndGlyphs">September 2011</text>
<rect x="410.90" y="2201.50" width="8.13" height="4.20" fill="#fff"/>
<rect x="422.47" y="2201.50" width="7.83" height="4.20" fill="#fff"/>
<rect x="429.68" y="2201.50" width="8.13" height="4.20" fill="#fff"/>
<rect x="441.25" y="2201.50" width="7.83" height="4.20" fill="#fff"/>
<text x="497.34" y="2137.60" font-size="36.48" font-weight="700" textLength="22.32" lengthAdjust="spacingAndGlyphs">1</text>
<rect x="498.57" y="2133.18" width="8.14" height="5.12" fill="#fff"/>
<rect x="512.21" y="2133.18" width="7.63" height="5.12" fill="#fff"/>
<text x="552.27" y="2137.60" font-size="36.48" font-weight="700" textLength="18.67" lengthAdjust="spacingAndGlyphs">2</text>
<text x="605.67" y="2137.60" font-size="36.48" font-weight="700" textLength="18.67" lengthAdjust="spacingAndGlyphs">3</text>
<text x="659.07" y="2137.60" font-size="36.48" font-weight="700" textLength="18.67" lengthAdjust="spacingAndGlyphs">4</text>
<text x="712.47" y="2137.60" font-size="36.48" font-weight="700" textLength="18.67" lengthAdjust="spacingAndGlyphs">5</text>
<text x="497.57" y="2205.00" font-size="37.50" textLength="273.33" lengthAdjust="spacingAndGlyphs">December 2011</text>
<rect x="732.26" y="2201.50" width="8.10" height="4.20" fill="#fff"/>
<rect x="743.79" y="2201.50" width="7.80" height="4.20" fill="#fff"/>
<rect x="750.96" y="2201.50" width="8.10" height="4.20" fill="#fff"/>
<rect x="762.50" y="2201.50" width="7.80" height="4.20" fill="#fff"/>
<text x="818.59" y="2137.60" font-size="36.48" font-weight="700" textLength="22.32" lengthAdjust="spacingAndGlyphs">1</text>
<rect x="819.82" y="2133.18" width="8.14" height="5.12" fill="#fff"/>
<rect x="833.46" y="2133.18" width="7.63" height="5.12" fill="#fff"/>
<text x="873.62" y="2137.60" font-size="36.48" font-weight="700" textLength="18.67" lengthAdjust="spacingAndGlyphs">2</text>
<text x="927.12" y="2137.60" font-size="36.48" font-weight="700" textLength="18.67" lengthAdjust="spacingAndGlyphs">3</text>
<text x="980.62" y="2137.60" font-size="36.48" font-weight="700" textLength="18.67" lengthAdjust="spacingAndGlyphs">4</text>
<text x="1034.12" y="2137.60" font-size="36.48" font-weight="700" textLength="18.67" lengthAdjust="spacingAndGlyphs">5</text>
<text x="850.62" y="2205.00" font-size="37.50" textLength="201.27" lengthAdjust="spacingAndGlyphs">March 2012</text>
<rect x="1011.11" y="2201.50" width="7.98" height="4.20" fill="#fff"/>
<rect x="1022.46" y="2201.50" width="7.68" height="4.20" fill="#fff"/>
<text x="1139.84" y="2137.60" font-size="36.48" font-weight="700" textLength="22.32" lengthAdjust="spacingAndGlyphs">1</text>
<rect x="1141.07" y="2133.18" width="8.14" height="5.12" fill="#fff"/>
<rect x="1154.71" y="2133.18" width="7.63" height="5.12" fill="#fff"/>
<text x="1194.97" y="2137.60" font-size="36.48" font-weight="700" textLength="18.67" lengthAdjust="spacingAndGlyphs">2</text>
<text x="1248.57" y="2137.60" font-size="36.48" font-weight="700" textLength="18.67" lengthAdjust="spacingAndGlyphs">3</text>
<text x="1302.17" y="2137.60" font-size="36.48" font-weight="700" textLength="18.67" lengthAdjust="spacingAndGlyphs">4</text>
<text x="1355.77" y="2137.60" font-size="36.48" font-weight="700" textLength="18.67" lengthAdjust="spacingAndGlyphs">5</text>
<text x="1196.93" y="2205.00" font-size="37.50" textLength="177.47" lengthAdjust="spacingAndGlyphs">June 2012</text>
<rect x="1333.73" y="2201.50" width="7.96" height="4.20" fill="#fff"/>
<rect x="1345.05" y="2201.50" width="7.66" height="4.20" fill="#fff"/>
<text x="652.27" y="2063.75" font-size="40.70" font-weight="700" textLength="28.51" lengthAdjust="spacingAndGlyphs">N</text>
<text x="714.77" y="2063.75" font-size="40.70" font-weight="700" textLength="28.51" lengthAdjust="spacingAndGlyphs">N</text>
<polygon points="126.00,2277.60 174.90,2277.60 177.50,2280.20 177.50,2304.00 174.90,2306.60 126.00,2306.60 123.40,2304.00 123.40,2280.20" fill="#171717" stroke="#171717" stroke-width="1" stroke-linejoin="round"/>
<rect transform="translate(122.9,2277.1)" x="4.6" y="4.6" width="45.90" height="20.80" fill="url(#leggrid)"/>
<polygon points="128.10,2353.90 177.50,2353.90 180.10,2356.50 180.10,2380.30 177.50,2382.90 128.10,2382.90 125.50,2380.30 125.50,2356.50" fill="#171717" stroke="#171717" stroke-width="1" stroke-linejoin="round"/>
<rect transform="translate(129.6,2358.0)" width="46.40" height="20.80" fill="url(#legdots)"/>
<polygon points="754.00,2291.90 803.20,2291.90 805.80,2294.50 805.80,2318.30 803.20,2320.90 754.00,2320.90 751.40,2318.30 751.40,2294.50" fill="#171717" stroke="#171717" stroke-width="1" stroke-linejoin="round"/>
<rect x="755.5" y="2296.0" width="46.20" height="20.80" fill="#fff"/>
<polygon points="751.10,2353.90 800.30,2353.90 802.90,2356.50 802.90,2380.30 800.30,2382.90 751.10,2382.90 748.50,2380.30 748.50,2356.50" fill="#171717" stroke="#171717" stroke-width="1" stroke-linejoin="round"/>
<text x="203.86" y="2305.00" font-size="39.53" textLength="227.51" lengthAdjust="spacingAndGlyphs">Larval stages</text>
<text x="206.06" y="2381.40" font-size="39.53" textLength="237.81" lengthAdjust="spacingAndGlyphs">Un-developed</text>
<text x="831.14" y="2319.10" font-size="39.53" textLength="275.94" lengthAdjust="spacingAndGlyphs">Prelarval stages</text>
<text x="829.78" y="2380.90" font-size="39.53" textLength="181.91" lengthAdjust="spacingAndGlyphs">Non-viable</text>
</svg>
</body></html>
